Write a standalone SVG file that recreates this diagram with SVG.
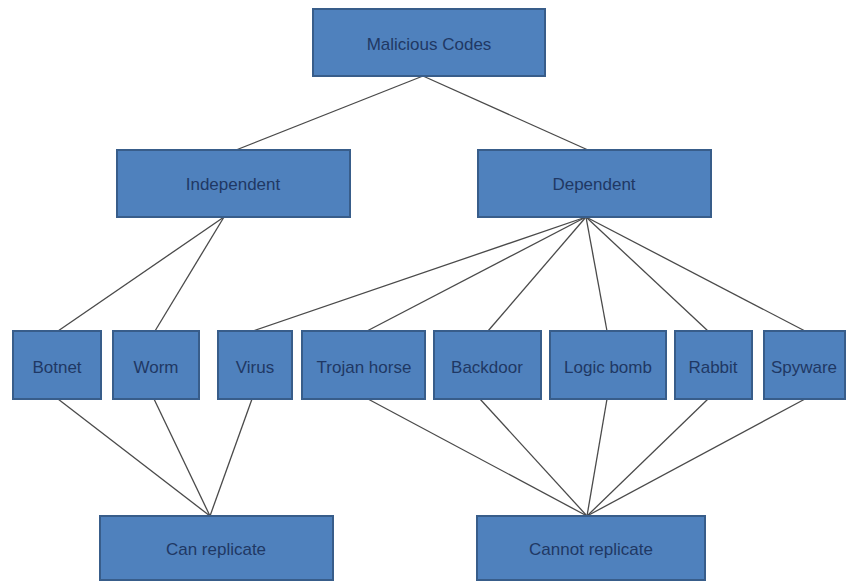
<svg xmlns="http://www.w3.org/2000/svg" width="847" height="582" viewBox="0 0 847 582">
<style>
.box{fill:#4f81bd;stroke:#385d8a;stroke-width:2}
.lbl{font-family:"Liberation Sans",Arial,sans-serif;font-size:17px;fill:#1f3864;text-anchor:middle;dominant-baseline:central}
.c{stroke:#4a4a4a;stroke-width:1.3;fill:none}
</style>
<rect width="847" height="582" fill="#ffffff"/>
<g id="connectors">
<line class="c" x1="423" y1="76" x2="236" y2="150"/>
<line class="c" x1="423" y1="76" x2="588" y2="150"/>
<line class="c" x1="224" y1="217" x2="58" y2="331"/>
<line class="c" x1="224" y1="217" x2="155" y2="331"/>
<line class="c" x1="586" y1="217" x2="253" y2="331"/>
<line class="c" x1="586" y1="217" x2="367" y2="331"/>
<line class="c" x1="586" y1="217" x2="488" y2="331"/>
<line class="c" x1="586" y1="217" x2="607" y2="331"/>
<line class="c" x1="586" y1="217" x2="708" y2="331"/>
<line class="c" x1="586" y1="217" x2="805" y2="331"/>
<line class="c" x1="58" y1="399" x2="210" y2="516"/>
<line class="c" x1="154" y1="399" x2="210" y2="516"/>
<line class="c" x1="252" y1="399" x2="210" y2="516"/>
<line class="c" x1="368" y1="399" x2="587" y2="516"/>
<line class="c" x1="480" y1="399" x2="587" y2="516"/>
<line class="c" x1="607" y1="399" x2="587" y2="516"/>
<line class="c" x1="708" y1="399" x2="587" y2="516"/>
<line class="c" x1="805" y1="399" x2="587" y2="516"/>
</g>
<g id="malicious"><rect class="box" x="313" y="9" width="232" height="67"/><text class="lbl" x="429" y="44" font-size="16">Malicious Codes</text></g>
<g id="independent"><rect class="box" x="117" y="150" width="233" height="67"/><text class="lbl" x="233" y="184">Independent</text></g>
<g id="dependent"><rect class="box" x="478" y="150" width="233" height="67"/><text class="lbl" x="594" y="184">Dependent</text></g>
<g id="botnet"><rect class="box" x="13" y="331" width="88" height="68"/><text class="lbl" x="57" y="367">Botnet</text></g>
<g id="worm"><rect class="box" x="113" y="331" width="86" height="68"/><text class="lbl" x="156" y="367">Worm</text></g>
<g id="virus"><rect class="box" x="218" y="331" width="74" height="68"/><text class="lbl" x="255" y="367">Virus</text></g>
<g id="trojan"><rect class="box" x="302" y="331" width="123" height="68"/><text class="lbl" x="364" y="367">Trojan horse</text></g>
<g id="backdoor"><rect class="box" x="434" y="331" width="107" height="68"/><text class="lbl" x="487" y="367">Backdoor</text></g>
<g id="logicbomb"><rect class="box" x="550" y="331" width="116" height="68"/><text class="lbl" x="608" y="367">Logic bomb</text></g>
<g id="rabbit"><rect class="box" x="675" y="331" width="77" height="68"/><text class="lbl" x="713" y="367">Rabbit</text></g>
<g id="spyware"><rect class="box" x="764" y="331" width="81" height="68"/><text class="lbl" x="804" y="367">Spyware</text></g>
<g id="canreplicate"><rect class="box" x="100" y="516" width="233" height="64"/><text class="lbl" x="216" y="549">Can replicate</text></g>
<g id="cannotreplicate"><rect class="box" x="477" y="516" width="228" height="64"/><text class="lbl" x="591" y="549">Cannot replicate</text></g>
</svg>
